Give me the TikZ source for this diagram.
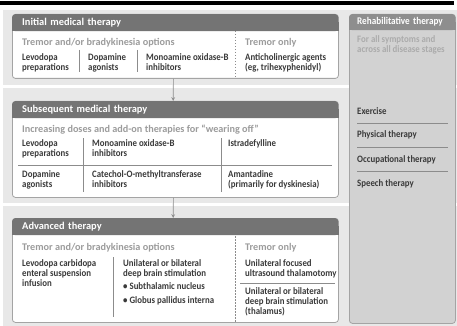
\documentclass[tikz,border=0pt]{standalone}
\usepackage{fontspec}
\setmainfont[FakeStretch=0.9]{Carlito}
\newfontfamily\widefam[Ligatures=TeX]{Carlito}
\usetikzlibrary{positioning}

\definecolor{bggray}{HTML}{E8E8E8}
\definecolor{colgray}{HTML}{D2D2D2}
\definecolor{colhdgray}{HTML}{8E8E8E}
\definecolor{headgray}{HTML}{747474}
\definecolor{framegray}{HTML}{A4A4A4}
\definecolor{itemgray}{HTML}{3A3A3A}
\definecolor{subgray}{HTML}{9C9C9C}
\definecolor{sepgray}{HTML}{8C8C8C}

\newcommand\fhead{\widefam\bfseries\fontsize{10.4}{12}\selectfont}
\newcommand\fcol{\bfseries\fontsize{10.2}{12}\selectfont}
\newcommand\fsub{\widefam\bfseries\fontsize{10.2}{12}\selectfont}
\newcommand\fitem{\bfseries\fontsize{9.8}{10.2}\selectfont}

\tikzset{
  secbg/.style={fill=bggray},
  frame/.style={draw=framegray, fill=white, line width=0.8pt, rounded corners=3pt,
    minimum width=326pt, inner sep=0pt, anchor=north west},
  head/.style={fill=headgray, rounded corners=3pt, minimum width=326pt, minimum height=17pt,
    inner xsep=10pt, inner ysep=0pt, text width=306pt, align=left, text=white, font=\fhead, anchor=north west},
  colbox/.style={draw=framegray, fill=colgray, line width=0.8pt, rounded corners=3pt,
    minimum width=106pt, minimum height=309pt, anchor=north west},
  colhead/.style={fill=colhdgray, rounded corners=3pt, minimum width=106pt, minimum height=16pt,
    inner xsep=8pt, inner ysep=0pt, text width=90pt, align=left, text=white, font=\fcol, anchor=north west},
  sub/.style={anchor=north west, inner sep=0pt, text=subgray, font=\fsub},
  item/.style={anchor=north west, inner sep=0pt, align=left, text=itemgray, font=\fitem},
  sep/.style={draw=sepgray, line width=0.7pt},
  dsep/.style={draw=sepgray, line width=0.8pt, dash pattern=on 1.5pt off 1.5pt},
  arr/.style={draw=sepgray, line width=0.7pt, ->},
}

\begin{document}
\begin{tikzpicture}[x=1pt,y=-1pt,>=stealth,line join=round]
  \useasboundingbox (0,0) rectangle (457,326);
  \fill[black] (0,1.5) rectangle (454,5);
  % section backgrounds
  \fill[secbg] (3,10) rectangle (457,85);
  \fill[secbg] (3,88) rectangle (457,203);
  \fill[secbg] (3,206) rectangle (457,326);

  % initial medical therapy
  \node[frame, minimum height=64pt] (box1) at (12,14) {};
  \fill[headgray] ([yshift=-8pt]box1.north west) rectangle ([yshift=-17pt]box1.north east);
  \node[head] (head1) at (12,14) {Initial medical therapy};
  \node[sub] (s1) at (22,38) {Tremor and/or bradykinesia options};
  \node[item] (t1a) at (22,53) {Levodopa\\preparations};
  \node[item] (t1b) at (88,53) {Dopamine\\agonists};
  \node[item] (t1c) at (146,53) {Monoamine oxidase-B\\inhibitors};
  \draw[sep] (79,50) -- (79,72);
  \draw[sep] (137,50) -- (137,72);
  \draw[dsep] (235,31) -- (235,78);
  \node[sub] (s1r) at (245,38) {Tremor only};
  \node[item] (t1d) at (245,53) {Anticholinergic agents\\(eg, trihexyphenidyl)};

  % subsequent medical therapy
  \node[frame, minimum height=96pt] (box2) at (12,101) {};
  \fill[headgray] ([yshift=-8pt]box2.north west) rectangle ([yshift=-17pt]box2.north east);
  \node[head] (head2) at (12,101) {Subsequent medical therapy};
  \node[sub] (s2) at (22,125) {Increasing doses and add-on therapies for “wearing off”};
  \node[item] (t2a) at (22,139.5) {Levodopa\\preparations};
  \node[item] (t2b) at (92,139.5) {Monoamine oxidase-B\\inhibitors};
  \node[item] (t2c) at (228,139.5) {Istradefylline};
  \node[item] (t2d) at (22,170.5) {Dopamine\\agonists};
  \node[item] (t2e) at (92,170.5) {Catechol-O-methyltransferase\\inhibitors};
  \node[item] (t2f) at (228,170.5) {Amantadine\\(primarily for dyskinesia)};
  \draw[sep] (83,138) -- (83,192);
  \draw[sep] (221,138) -- (221,192);
  \draw[sep] (18,165) -- (332,165);

  % advanced therapy
  \node[frame, minimum height=104pt] (box3) at (12,218) {};
  \fill[headgray] ([yshift=-8pt]box3.north west) rectangle ([yshift=-17pt]box3.north east);
  \node[head] (head3) at (12,218) {Advanced therapy};
  \node[sub] (s3) at (22,243) {Tremor and/or bradykinesia options};
  \node[item] (t3a) at (22,259.5) {Levodopa carbidopa\\enteral suspension\\infusion};
  \node[item] (t3b) at (123,259.5) {Unilateral or bilateral\\deep brain stimulation\\[3pt]
    \textbullet\ Subthalamic nucleus\\[3pt]\textbullet\ Globus pallidus interna};
  \draw[sep] (113,257) -- (113,317);
  \draw[dsep] (235,236) -- (235,322);
  \node[sub] (s3r) at (245,243) {Tremor only};
  \node[item] (t3c) at (245,259.5) {Unilateral focused\\ultrasound thalamotomy};
  \draw[sep] (240,283) -- (335,283);
  \node[item] (t3d) at (245,287.5) {Unilateral or bilateral\\deep brain stimulation\\(thalamus)};

  \draw[arr] ([xshift=-2pt]box1.south) -- ([xshift=-2pt]head2.north);
  \draw[arr] ([xshift=-2pt]box2.south) -- ([xshift=-2pt]head3.north);

  % rehabilitative therapy
  \node[colbox] (rehab) at (349,14) {};
  \fill[colhdgray] ([yshift=-8pt]rehab.north west) rectangle ([yshift=-16pt]rehab.north east);
  \node[colhead] (rhead) at (349,14) {Rehabilitative therapy};
  \node[item, text=subgray!85!white] (r0) at (357,35) {For all symptoms and\\across all disease stages};
  \node[item] (r1) at (357,107) {Exercise};
  \node[item] (r2) at (357,130) {Physical therapy};
  \node[item] (r3) at (357,155) {Occupational therapy};
  \node[item] (r4) at (357,179) {Speech therapy};
  \draw[sep] (357,123) -- (448,123);
  \draw[sep] (357,147) -- (448,147);
  \draw[sep] (357,171) -- (448,171);
\end{tikzpicture}
\end{document}
